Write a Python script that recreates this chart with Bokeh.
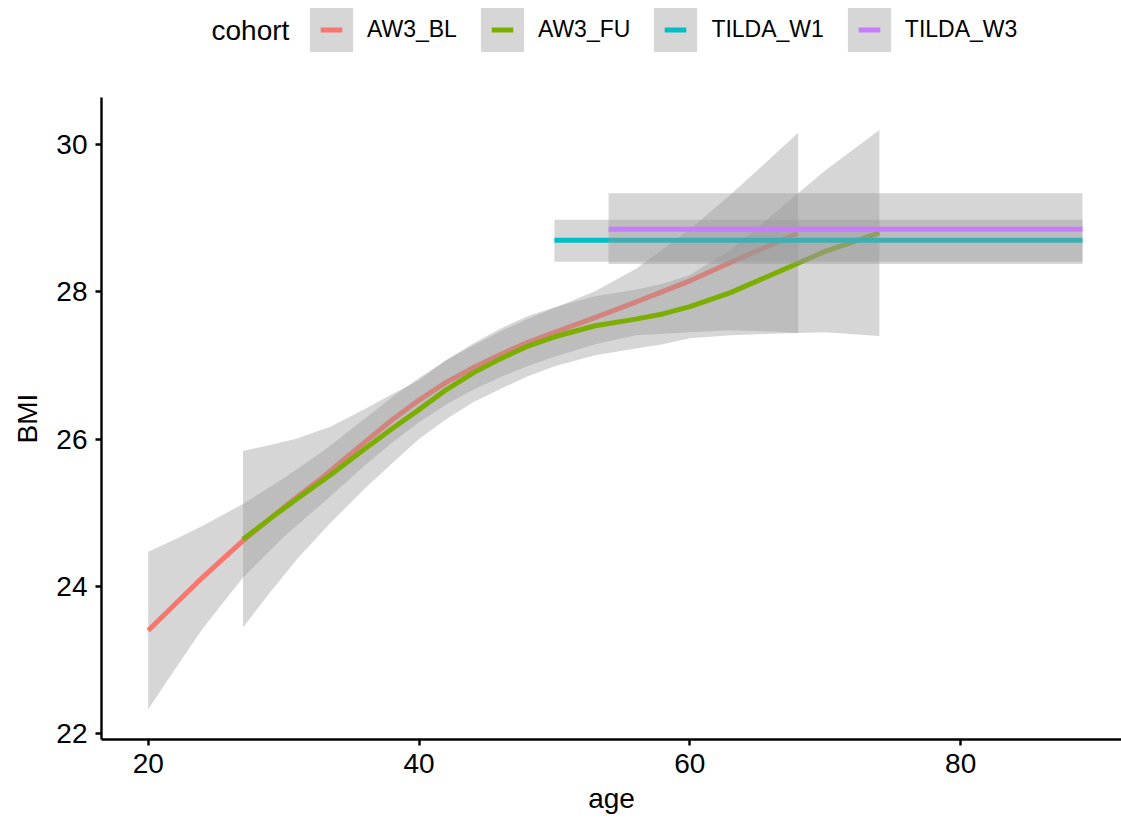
from bokeh.plotting import figure
from bokeh.layouts import column
from bokeh.models import Range1d, FixedTicker, Legend, LegendItem, Label
from bokeh.embed import file_html
from bokeh.resources import INLINE

# ---- data ----
legend_title = "cohort"
cohorts = ["AW3_BL", "AW3_FU", "TILDA_W1", "TILDA_W3"]
colors = ["#F8766D", "#7CAE00", "#00BFC4", "#C77CFF"]

bl_age = [20, 22, 24, 27, 30, 33, 36, 38, 40, 42, 44, 46, 48, 50, 53, 56, 60, 63, 66, 68]
bl_fit = [23.40, 23.76, 24.12, 24.62, 25.07, 25.50, 25.96, 26.26, 26.53, 26.77, 26.97, 27.15, 27.31, 27.45, 27.65, 27.86, 28.15, 28.40, 28.64, 28.80]
bl_lo = [22.33, 22.88, 23.42, 24.12, 24.67, 25.15, 25.64, 25.95, 26.23, 26.47, 26.67, 26.84, 26.99, 27.12, 27.29, 27.41, 27.45, 27.48, 27.46, 27.44]
bl_hi = [24.47, 24.64, 24.82, 25.12, 25.47, 25.85, 26.28, 26.57, 26.83, 27.07, 27.27, 27.46, 27.63, 27.78, 28.01, 28.31, 28.85, 29.32, 29.82, 30.16]

fu_age = [27, 29, 31, 33.5, 36, 38, 40, 42, 44, 46, 48, 50, 53, 56, 58, 60, 63, 66, 70, 74]
fu_fit = [24.64, 24.92, 25.19, 25.52, 25.87, 26.14, 26.40, 26.67, 26.90, 27.09, 27.26, 27.39, 27.54, 27.63, 27.70, 27.80, 27.99, 28.23, 28.55, 28.80]
fu_lo = [23.44, 23.92, 24.37, 24.87, 25.33, 25.67, 26.00, 26.27, 26.50, 26.68, 26.85, 26.99, 27.14, 27.23, 27.29, 27.37, 27.41, 27.43, 27.45, 27.40]
fu_hi = [25.84, 25.92, 26.01, 26.17, 26.41, 26.61, 26.80, 27.07, 27.30, 27.50, 27.67, 27.79, 27.94, 28.03, 28.11, 28.23, 28.57, 29.03, 29.65, 30.20]

w1_age = [50, 89]
w1_fit = [28.70, 28.70]
w1_lo = [28.41, 28.41]
w1_hi = [28.98, 28.98]

w3_age = [54, 89]
w3_fit = [28.85, 28.85]
w3_lo = [28.38, 28.38]
w3_hi = [29.34, 29.34]

x_ticks = [20, 40, 60, 80]
y_ticks = [22, 24, 26, 28, 30]

FONT = "Liberation Sans"
BAND = "#999999"

series = [
    (bl_age, bl_fit, bl_lo, bl_hi),
    (fu_age, fu_fit, fu_lo, fu_hi),
    (w1_age, w1_fit, w1_lo, w1_hi),
    (w3_age, w3_fit, w3_lo, w3_hi),
]

# ---------------- main plot ----------------
p = figure(width=1121, height=725, output_backend="svg", toolbar_location=None,
           x_range=Range1d(16.55, 91.88), y_range=Range1d(21.92, 30.64),
           min_border_left=101, min_border_right=0, min_border_top=0, min_border_bottom=83)
p.outline_line_color = None
p.xgrid.visible = False
p.ygrid.visible = False
p.background_fill_color = "white"
p.border_fill_color = "white"

for col, (ax, fit, lo, hi) in zip(colors, series):
    p.varea(x=ax, y1=lo, y2=hi, fill_color=BAND, fill_alpha=0.4)
    p.line(x=ax, y=fit, line_color=col, line_width=5, line_join="round")

for ax in (p.xaxis[0], p.yaxis[0]):
    ax.axis_line_width = 2.4
    ax.axis_line_color = "black"
    ax.major_tick_line_width = 2.4
    ax.major_tick_line_color = "black"
    ax.major_tick_out = 6
    ax.major_tick_in = 0
    ax.minor_tick_out = 0
    ax.minor_tick_in = 0
    ax.major_label_text_font = FONT
    ax.major_label_text_font_size = "28px"
    ax.major_label_text_color = "black"
    ax.axis_label_text_font = FONT
    ax.axis_label_text_font_size = "28px"
    ax.axis_label_text_font_style = "normal"
    ax.axis_label_text_color = "black"

p.xaxis.ticker = FixedTicker(ticks=x_ticks)
p.yaxis.ticker = FixedTicker(ticks=y_ticks)
p.xaxis.axis_label = "age"
p.yaxis.axis_label = "BMI"
p.xaxis.major_label_standoff = 8
p.xaxis.axis_label_standoff = 7
p.yaxis.major_label_standoff = 8
p.yaxis.axis_label_standoff = 10

# ---------------- legend strip ----------------
lg = figure(width=1121, height=97, output_backend="svg", toolbar_location=None,
            x_range=Range1d(0, 1), y_range=Range1d(0, 1),
            x_axis_location=None, y_axis_location=None,
            min_border_left=0, min_border_right=0, min_border_top=0, min_border_bottom=0)
lg.outline_line_color = None
lg.xgrid.visible = False
lg.ygrid.visible = False
lg.background_fill_color = "white"
lg.border_fill_color = "white"

items = []
for name, col, (ax, fit, lo, hi) in zip(cohorts, colors, series):
    # legend key renderers share the series data; they lie outside this strip's ranges
    kb = lg.varea(x=ax, y1=lo, y2=hi, fill_color=BAND, fill_alpha=0.4)
    kl = lg.scatter(x=ax, y=fit, marker="dash", line_color=col, line_width=5)
    items.append(LegendItem(label=name, renderers=[kb, kl]))

# the strip's frame is aligned with the main plot's frame (left edge at x=101)
legend = Legend(items=items, orientation="horizontal", location=(203, 40),
                glyph_width=54, glyph_height=55, label_height=55,
                label_standoff=9, spacing=18, padding=0, margin=0,
                border_line_alpha=0, background_fill_alpha=0,
                label_text_font=FONT, label_text_font_size="23px",
                label_text_color="black")
lg.add_layout(legend)
lg.add_layout(Label(x=110, y=67, x_units="screen", y_units="screen", text=legend_title,
                    text_font=FONT, text_font_size="28px", text_baseline="middle",
                    text_align="left", text_color="black"))

layout = column(lg, p, spacing=0)
open("out.html", "w").write(file_html(layout, INLINE))
